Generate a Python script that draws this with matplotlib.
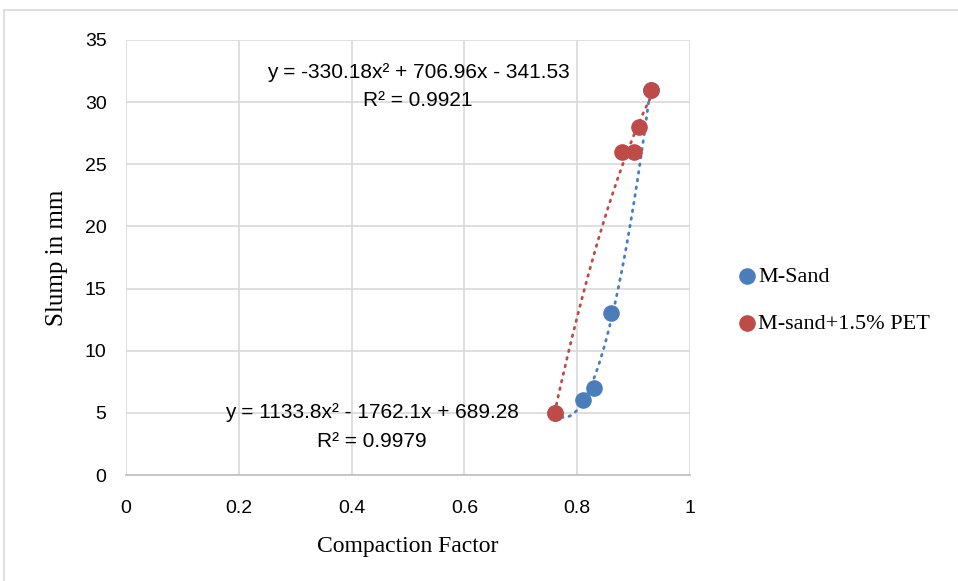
import numpy as np
import matplotlib.pyplot as plt
from matplotlib.patches import Rectangle

# data
msand_x = [0.76, 0.81, 0.83, 0.86, 0.93]
msand_y = [5, 6, 7, 13, 31]
pet_x = [0.76, 0.88, 0.90, 0.91, 0.93]
pet_y = [5, 26, 26, 28, 31]

# quadratic trendline coefficients as printed on the chart
msand_fit = [1133.8, -1762.1, 689.28]
pet_fit = [-330.18, 706.96, -341.53]

x_ticks = [0, 0.2, 0.4, 0.6, 0.8, 1]
x_tick_labels = ["0", "0.2", "0.4", "0.6", "0.8", "1"]
y_ticks = [0, 5, 10, 15, 20, 25, 30, 35]

BLUE = "#4a7ebb"
RED = "#be4b48"
GRID = "#d9d9d9"

num_font = ["Liberation Sans", "DejaVu Sans"]
serif_font = ["Liberation Serif", "DejaVu Serif"]

W, H = 958, 581
fig = plt.figure(figsize=(W / 100, H / 100), dpi=100)
fig.patches.append(Rectangle((4 / W, -0.01), 1.0, 1 - 10 / H + 0.01,
                             transform=fig.transFigure, fill=False,
                             edgecolor=GRID, linewidth=1.2))

ax = fig.add_axes([126 / W, 1 - 475 / H, (690 - 126) / W, (475 - 40) / H])
ax.set_xlim(0, 1)
ax.set_ylim(0, 35)
ax.set_xticks(x_ticks)
ax.set_xticklabels(x_tick_labels)
ax.set_yticks(y_ticks)
ax.grid(True, color=GRID, linewidth=1.2)
ax.set_axisbelow(True)
for side in ["left", "right", "top"]:
    ax.spines[side].set_visible(False)
ax.spines["bottom"].set_color("#bfbfbf")
ax.spines["bottom"].set_linewidth(1.2)
ax.tick_params(length=0, labelsize=14)
ax.tick_params(axis="x", pad=18)
ax.tick_params(axis="y", pad=14)
for lab in ax.get_xticklabels() + ax.get_yticklabels():
    lab.set_family(num_font)

# trendlines
for xs, coef, col in [(msand_x, msand_fit, BLUE), (pet_x, pet_fit, RED)]:
    xx = np.linspace(min(xs), max(xs), 200)
    ax.plot(xx, np.polyval(coef, xx), color=col, linewidth=2,
            linestyle=(0, (0.6, 2.2)), dash_capstyle="round", zorder=2)

ax.scatter(msand_x, msand_y, s=120, color=BLUE, zorder=3, label="M-Sand")
ax.scatter(pet_x, pet_y, s=120, color=RED, zorder=4, label="M-sand+1.5% PET")

ax.text(0.518, 32.4, "y = -330.18x² + 706.96x - 341.53", ha="center",
        va="center", fontsize=15, family=num_font)
ax.text(0.518, 30.1, "R² = 0.9921", ha="center", va="center",
        fontsize=15, family=num_font)
ax.text(0.436, 5.0, "y = 1133.8x² - 1762.1x + 689.28", ha="center",
        va="center", fontsize=15, family=num_font)
ax.text(0.436, 2.7, "R² = 0.9979", ha="center", va="center",
        fontsize=15, family=num_font)

ax.set_xlabel("Compaction Factor", fontsize=17, family=serif_font, labelpad=14)
ax.set_ylabel("Slump in mm", fontsize=18, family=serif_font, labelpad=12)

fig.legend(loc="center left", bbox_to_anchor=(718 / W, 1 - 300 / H),
           frameon=False, handlelength=0.8, handletextpad=0.1,
           markerscale=1.0, labelspacing=1.2,
           prop={"family": serif_font, "size": 16})

fig.savefig("out.png", dpi=100)
